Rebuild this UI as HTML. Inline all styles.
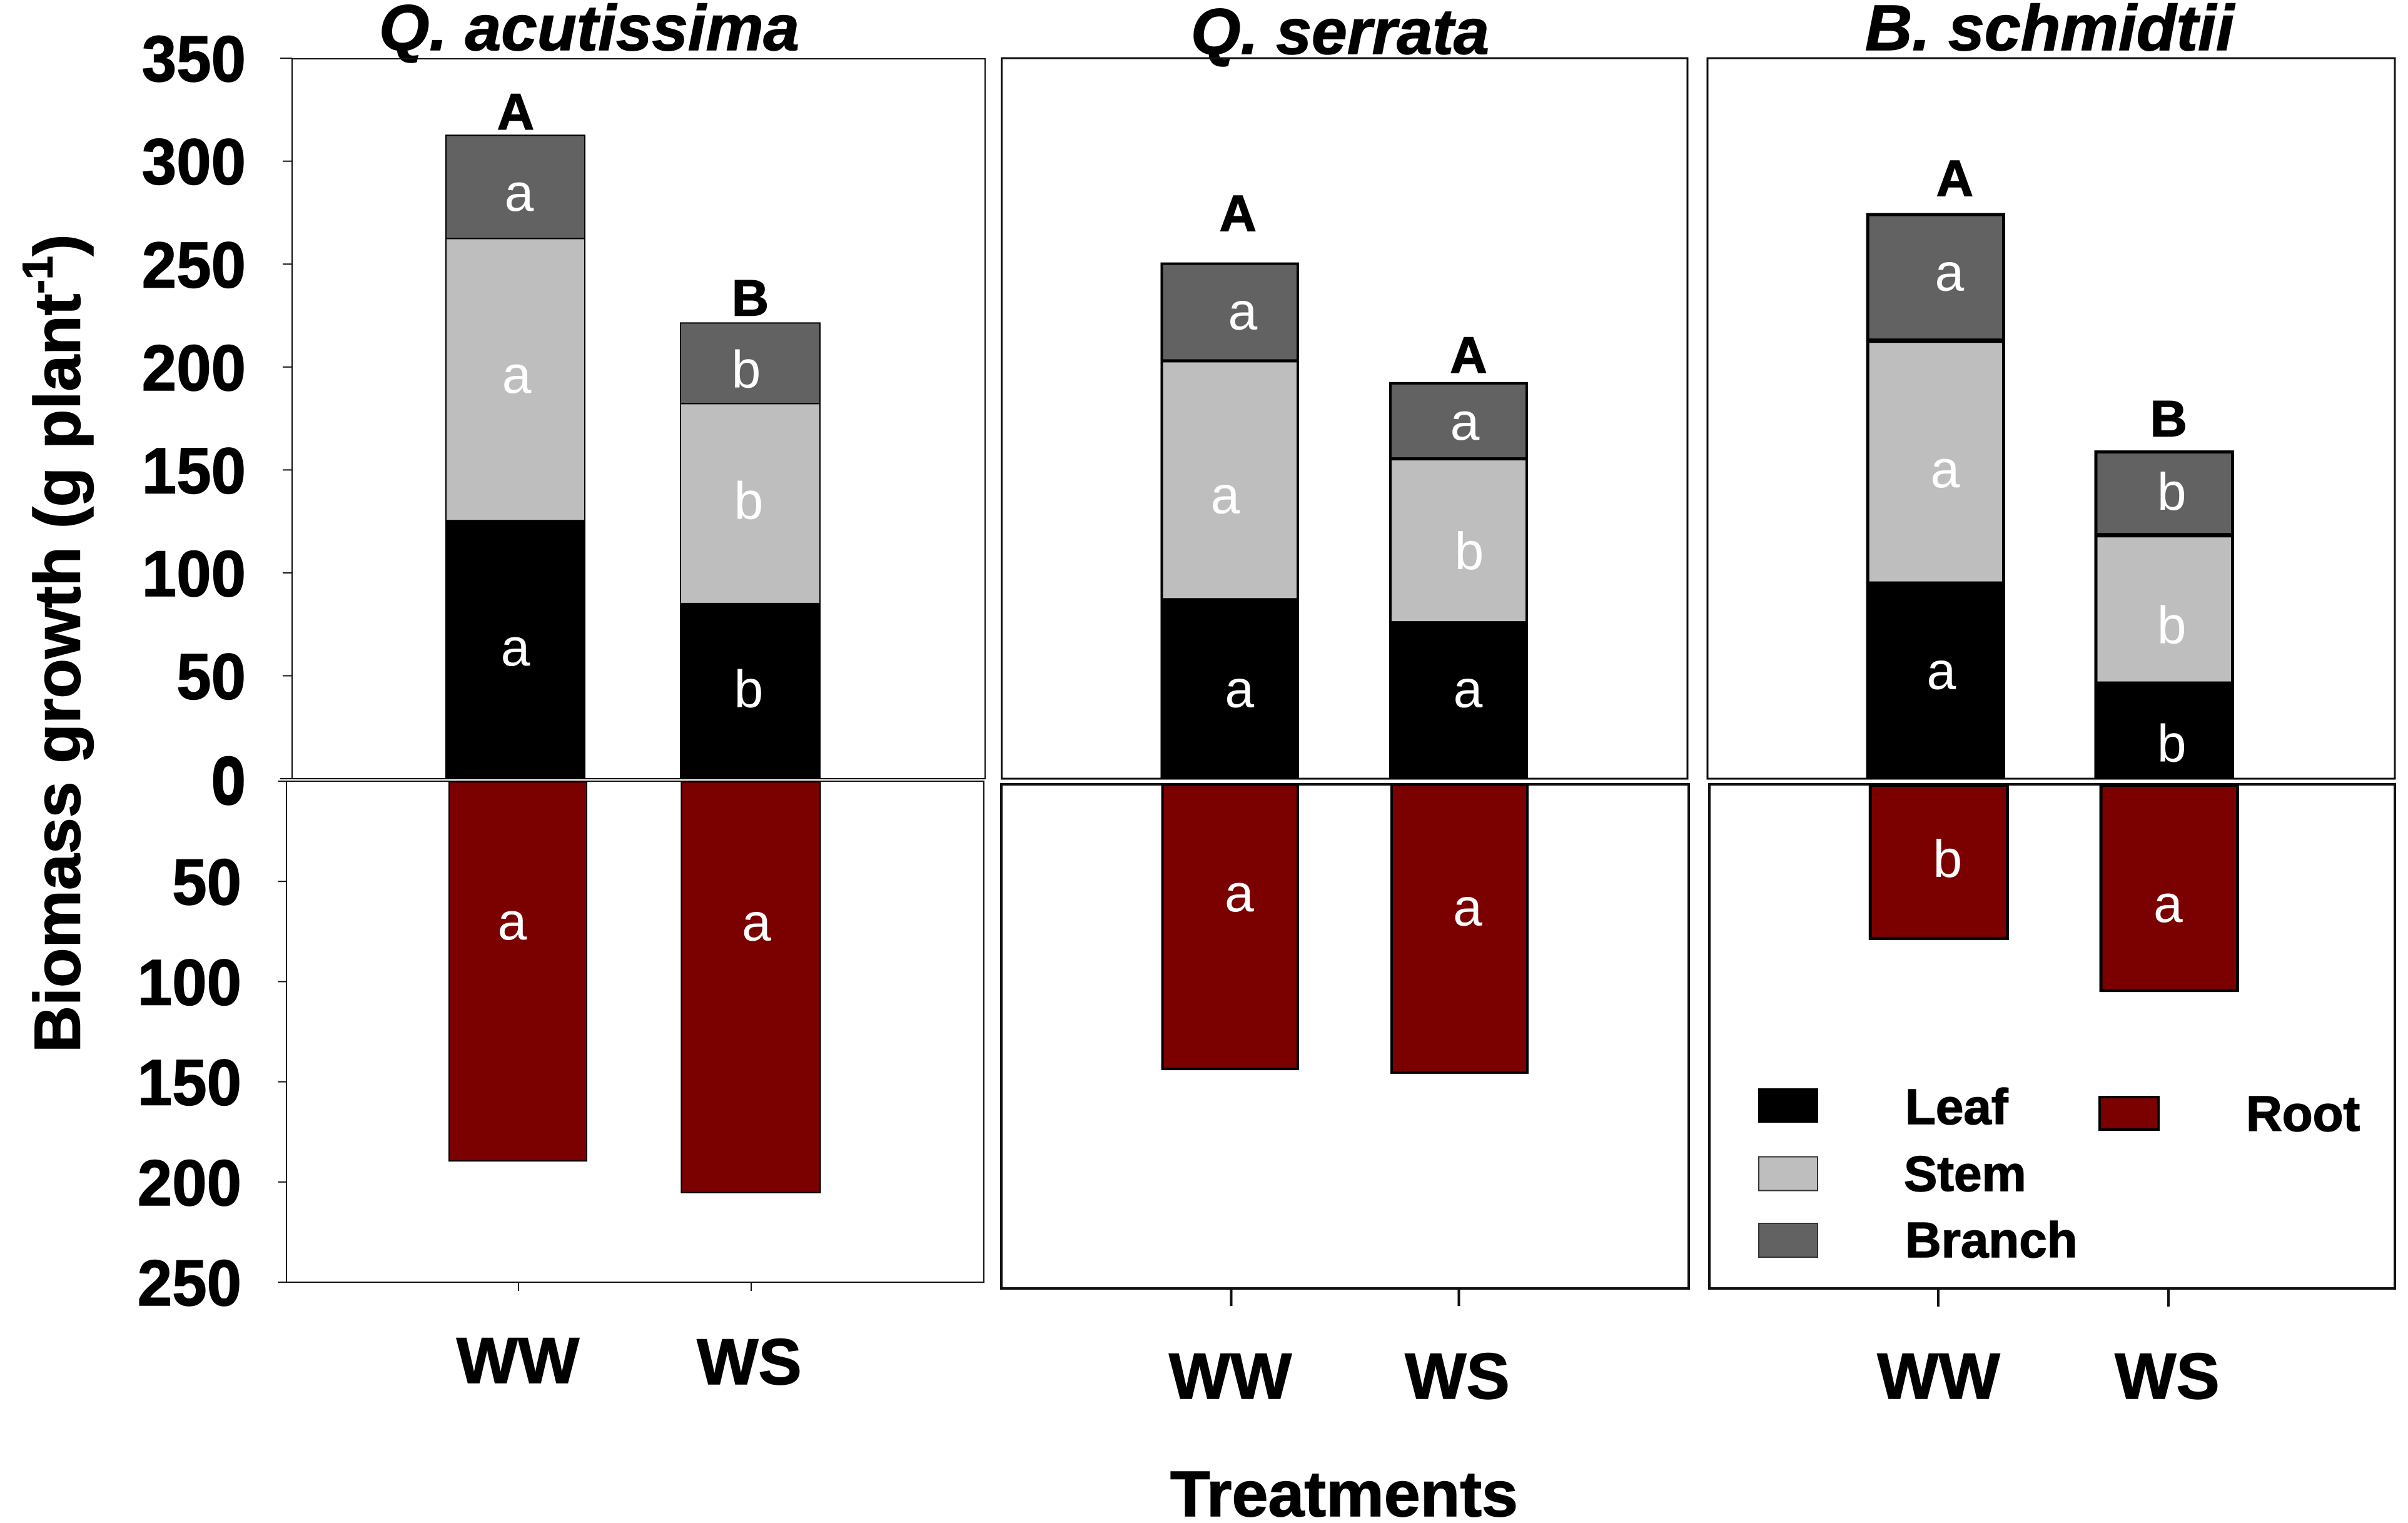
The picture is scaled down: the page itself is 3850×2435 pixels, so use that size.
<!DOCTYPE html>
<html lang="en">
<head>
<meta charset="utf-8">
<title>Biomass growth by species and treatment</title>
<style>
html,body{margin:0;padding:0;background:#fff;}
svg{display:block;}
text{font-family:"Liberation Sans",Arial,sans-serif;}
.bold{font-weight:700;fill:#000;stroke:#000;stroke-width:1.5px;}
</style>
</head>
<body>
<svg id="chart" xmlns="http://www.w3.org/2000/svg" width="3850" height="2435" viewBox="0 0 3850 2435">
  <rect x="0" y="0" width="3850" height="2435" fill="#fff"/>
  <text class="bold" font-style="italic" font-size="103" x="606" y="80" textLength="672" lengthAdjust="spacingAndGlyphs">Q. acutissima</text>
  <text class="bold" font-style="italic" font-size="103" x="1904" y="86" textLength="477" lengthAdjust="spacingAndGlyphs">Q. serrata</text>
  <text class="bold" font-style="italic" font-size="103" x="2982" y="80" textLength="590" lengthAdjust="spacingAndGlyphs">B. schmidtii</text>
  <text class="bold" font-size="104" transform="translate(127.5 1683) rotate(-90)">Biomass growth (g plant<tspan font-size="68" dy="-44">-1</tspan><tspan dy="44">)</tspan></text>
  <text class="bold" font-size="103" x="1871" y="2424" textLength="556" lengthAdjust="spacingAndGlyphs">Treatments</text>
  <g id="panels"></g>
  <g id="legend">
    <rect x="2811" y="1740" width="96" height="55" fill="#000"/>
    <rect x="2812" y="1849.5" width="94" height="54" fill="#BEBEBE" stroke="#333" stroke-width="2"/>
    <rect x="2812" y="1956" width="94" height="54" fill="#626262" stroke="#333" stroke-width="2"/>
    <rect x="3357" y="1754" width="94" height="52" fill="#7B0000" stroke="#000" stroke-width="4"/>
    <text class="bold" font-size="80" x="3046" y="1797">Leaf</text>
    <text class="bold" font-size="80" x="3044" y="1904">Stem</text>
    <text class="bold" font-size="80" x="3046" y="2010">Branch</text>
    <text class="bold" font-size="80" x="3591" y="1808">Root</text>
  </g>
</svg>
<script>
// ---- data (g per plant), order: Qa-WW, Qa-WS, Qs-WW, Qs-WS, Bs-WW, Bs-WS ----
const speciesKeys = ['q-acutissima', 'q-serrata', 'b-schmidtii'];
const treatments = ['WW', 'WS'];
const leafValues = [125.7, 85.4, 87.7, 76.5, 95.8, 47.2];
const stemValues = [136.7, 96.8, 115.3, 78.9, 117.0, 71.1];
const branchValues = [50.5, 39.5, 47.8, 37.3, 62.0, 41.2];
const rootValues = [189.8, 205.6, 141.9, 143.7, 77.4, 103.2];
const totalLetters = ['A', 'B', 'A', 'A', 'A', 'B'];
const leafLetters = ['a', 'b', 'a', 'a', 'a', 'b'];
const stemLetters = ['a', 'b', 'a', 'b', 'a', 'b'];
const branchLetters = ['a', 'b', 'a', 'a', 'a', 'b'];
const rootLetters = ['a', 'a', 'a', 'a', 'b', 'a'];
const upperTicks = [0, 50, 100, 150, 200, 250, 300, 350];
const lowerTicks = [0, 50, 100, 150, 200, 250];

// ---- layout (pixel geometry, separate from data) ----
const panelLayout = [
  {up:{l:467,t:94,r:1575,b:1245}, lo:{l:458,t:1249,r:1573,b:2050}, lw:2, barW:2, zeroUp:1245, zeroLo:1249, kLo:3.204, tickB:2064, catY:[2211,2213]},
  {up:{l:1601.5,t:93,r:2698,b:1245}, lo:{l:1601,t:1254,r:2700,b:2060}, lw:4, barW:4, zeroUp:1245, zeroLo:1253, kLo:3.228, tickB:2088, catY:[2236,2236]},
  {up:{l:2730,t:93,r:3829,b:1245}, lo:{l:2733,t:1254,r:3829,b:2060}, lw:4, barW:5, zeroUp:1245, zeroLo:1253, kLo:3.228, tickB:2089, catY:[2236,2236]}
];
const kUp = 3.291;
const upperBarEdges = [[712,936],[1087,1312],[1855.5,2077],[2221,2443],[2983.7,3206],[3348.5,3572]];
const rootBarEdges = [[717,939],[1088.4,1312.5],[1856.6,2077],[2223,2444],[2987.8,3212],[3356.6,3580]];
const tickXs = [829,1201,1968.5,2332.5,3099,3467];
const catXs = [828,1198,1967,2330,3099.5,3465];
const branchNudge = [[6,38.6],[-6.5,39],[20.6,28],[10,31],[22,22],[12,27]];
const stemNudge = [[2,21.6],[-2.5,25],[-7.4,54],[17,46.5],[15,42],[12,56]];
const leafNudge = [[0,26],[-2.5,26],[15.5,30],[15,11.6],[9,14],[12,50]];
const rootNudge = [[-9,-51],[9,-75],[14.5,-25],[13,-5.5],[14,24],[-2,54.5]];
const totalNudge = [[0.5,8.4],[0,11],[13,50],[16,15],[30.5,27],[7,22.5]];

const NS = 'http://www.w3.org/2000/svg';
const root = document.getElementById('panels');

function make(tag, attrs, parent, txt) {
  const el = document.createElementNS(NS, tag);
  for (const k in attrs) el.setAttribute(k, attrs[k]);
  if (txt !== undefined) el.textContent = txt;
  parent.appendChild(el);
  return el;
}
function yUpper(p, v) { return p.zeroUp - v * kUp; }
function yLower(p, v) { return p.zeroLo + v * p.kLo; }

function segment(group, edges, y0, y1, fill, sw) {
  return make('rect', {
    x: edges[0] + sw / 2, y: y0 + sw / 2,
    width: edges[1] - edges[0] - sw, height: Math.max(0, y1 - y0 - sw),
    fill: fill, stroke: '#000', 'stroke-width': sw
  }, group);
}
function letter(group, cx, midY, nudge, txt) {
  return make('text', {
    x: cx + nudge[0], y: midY + nudge[1], 'text-anchor': 'middle',
    'font-size': 84, fill: '#fff'
  }, group, txt);
}

speciesKeys.forEach(function (sp, pi) {
  const p = panelLayout[pi];
  const g = make('g', {}, root);
  
  

  const upFrame = make('rect', {x:p.up.l, y:p.up.t, width:p.up.r-p.up.l, height:p.up.b-p.up.t, fill:'none', stroke:'#111', 'stroke-width':pi===0?2:3}, g);
  
  
  const loFrame = make('rect', {x:p.lo.l, y:p.lo.t, width:p.lo.r-p.lo.l, height:p.lo.b-p.lo.t, fill:'none', stroke:'#111', 'stroke-width':p.lw}, g);
  
  

  treatments.forEach(function (tr, ti) {
    const i = pi * 2 + ti;
    const e = upperBarEdges[i];
    const r = rootBarEdges[i];
    const cx = (e[0] + e[1]) / 2;
    const rcx = (r[0] + r[1]) / 2;
    const yLeaf = yUpper(p, leafValues[i]);
    const yStem = yUpper(p, leafValues[i] + stemValues[i]);
    const yBranch = yUpper(p, leafValues[i] + stemValues[i] + branchValues[i]);
    const yRoot = yLower(p, rootValues[i]);
    const id = sp + '-' + tr.toLowerCase();
    const half = p.barW / 2;
    const boundary = Math.min(3, p.barW);

    // branch runs past its boundary so it shares a single divider line with the stem
    const barBranch = segment(g, e, yBranch, yStem + boundary / 2, '#626262', p.barW);
    
    
    // stem runs under the leaf so grey reaches right down to the leaf top
    const barStem = segment(g, e, yStem - boundary / 2 + half - half, yLeaf + p.barW, '#BEBEBE', p.barW);
    
    
    const barLeaf = segment(g, e, yLeaf, p.zeroUp, '#000', p.barW);
    
    
    const barRoot = segment(g, r, p.zeroLo, yRoot, '#7B0000', p.barW);
    
    

    const l1 = letter(g, cx, (yLeaf + p.zeroUp) / 2, leafNudge[i], leafLetters[i]);
    
    
    const l2 = letter(g, cx, (yStem + yLeaf) / 2, stemNudge[i], stemLetters[i]);
    
    
    const l3 = letter(g, cx, (yBranch + yStem) / 2, branchNudge[i], branchLetters[i]);
    
    
    const l4 = letter(g, rcx, (p.zeroLo + yRoot) / 2, rootNudge[i], rootLetters[i]);
    
    

    const total = make('text', {
      x: cx + totalNudge[i][0], y: yBranch - totalNudge[i][1],
      'text-anchor': 'middle', 'font-size': 82, 'class': 'bold'
    }, g, totalLetters[i]);
    
    

    const tick = make('line', {x1:tickXs[i], x2:tickXs[i], y1:p.lo.b, y2:p.tickB, stroke:'#111', 'stroke-width':pi===0?2:4}, g);
    
    
    const cat = make('text', {x:catXs[i], y:p.catY[ti], 'text-anchor':'middle', 'font-size':104, 'class':'bold'}, g, tr);
    
    
  });
});

// ---- y axes: only the first panel carries ticks and labels ----
const axisGroup = make('g', {}, root);


upperTicks.forEach(function (v) {
  const y = yUpper(panelLayout[0], v);
  const t = make('line', {x1: v === 350 || v === 0 ? 448 : 452, x2: 467, y1: y, y2: y, stroke: '#111', 'stroke-width': 2}, axisGroup);
  
  
  const label = String(v);
  const l = make('text', {x: 393, y: y + 37, 'text-anchor': 'end', 'font-size': 104, 'class': 'bold', textLength: label.length * 55.4, lengthAdjust: 'spacingAndGlyphs'}, axisGroup, label);
  
  
});
lowerTicks.forEach(function (v) {
  const y = yLower(panelLayout[0], v);
  const t = make('line', {x1: 444.5, x2: 458, y1: y, y2: y, stroke: '#111', 'stroke-width': 2}, axisGroup);
  
  
  const label = String(v);
  const l = make('text', {x: v === 0 ? 393 : 386, y: y + 37, 'text-anchor': 'end', 'font-size': 104, 'class': 'bold', textLength: label.length * 55.4, lengthAdjust: 'spacingAndGlyphs'}, axisGroup, label);
  
  
});
</script>
</body>
</html>
